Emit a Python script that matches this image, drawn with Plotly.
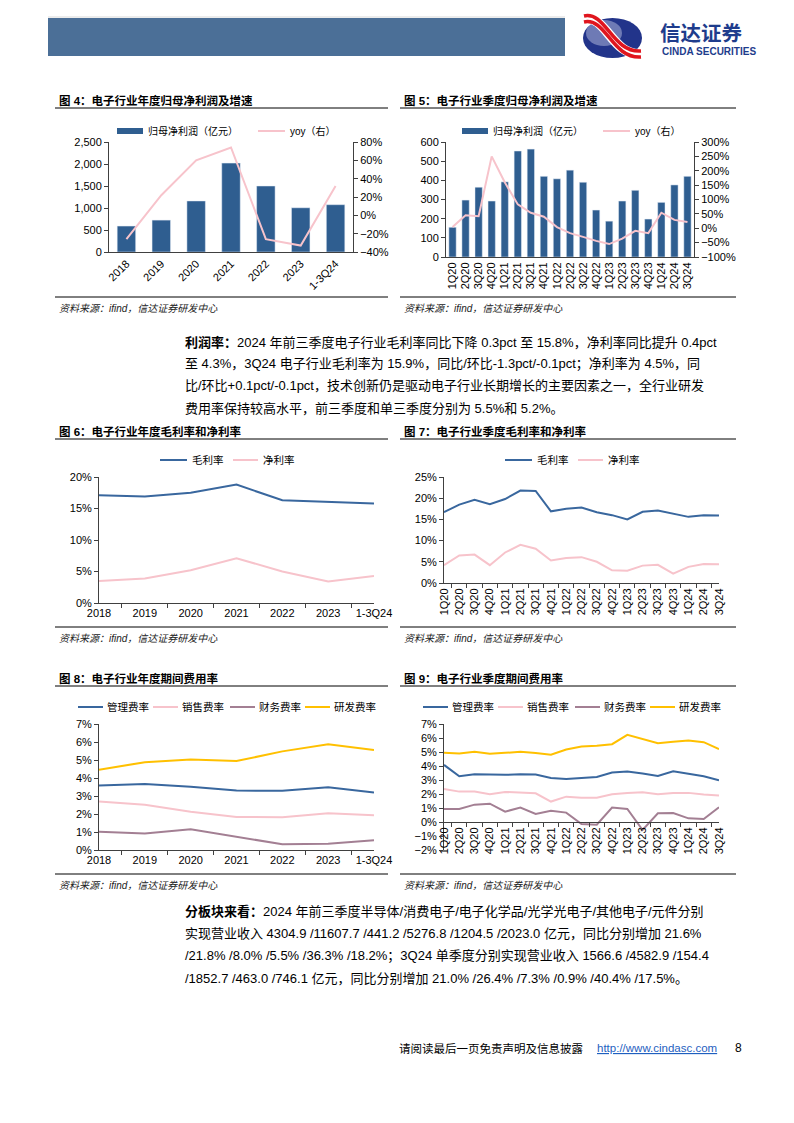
import plotly.graph_objects as go

W, H = 794, 1123
def X(px): return px / W
def Y(py): return 1 - py / H

FONT = "Liberation Sans, Arial, Noto Sans CJK SC, sans-serif"

# ---------------- data ----------------
years = ["2018", "2019", "2020", "2021", "2022", "2023", "1-3Q24"]
quarters = ["1Q20", "2Q20", "3Q20", "4Q20", "1Q21", "2Q21", "3Q21", "4Q21",
            "1Q22", "2Q22", "3Q22", "4Q22", "1Q23", "2Q23", "3Q23", "4Q23",
            "1Q24", "2Q24", "3Q24"]

annual_profit = [590, 725, 1160, 2020, 1500, 1005, 1075]
annual_profit_yoy = [-26, 22, 60, 74, -26, -33, 32]

q_profit = [155, 297, 364, 292, 392, 553, 563, 421, 408, 453, 390, 245,
            187, 292, 348, 198, 285, 376, 421]
q_profit_yoy = [4, 45, 42, 250, 160, 83, 54, 40, 4, -17, -30, -44,
                -55, -36, -9, -17, 54, 29, 22]

annual_gross = [17.1, 16.9, 17.5, 18.8, 16.3, 16.1, 15.8]
annual_net = [3.5, 3.9, 5.2, 7.1, 5.0, 3.4, 4.3]

q_gross = [16.7, 18.5, 19.6, 18.6, 19.8, 21.8, 21.7, 16.9, 17.5, 17.8, 16.7,
           16.0, 15.0, 16.8, 17.1, 16.3, 15.6, 16.0, 15.9]
q_net = [4.2, 6.5, 6.7, 4.2, 7.2, 9.0, 8.1, 5.3, 5.9, 6.1, 5.0, 3.0, 2.9,
         4.1, 4.3, 2.2, 3.8, 4.5, 4.4]

annual_admin = [3.58, 3.66, 3.51, 3.30, 3.29, 3.49, 3.19]
annual_sales = [2.69, 2.51, 2.12, 1.84, 1.82, 2.04, 1.93]
annual_fin = [1.02, 0.91, 1.15, 0.72, 0.32, 0.35, 0.54]
annual_rd = [4.46, 4.88, 5.03, 4.94, 5.48, 5.87, 5.55]

q_admin = [4.08, 3.27, 3.41, 3.39, 3.37, 3.41, 3.39, 3.15, 3.08, 3.15, 3.22,
           3.53, 3.60, 3.46, 3.29, 3.63, 3.46, 3.27, 2.98]
q_sales = [2.36, 2.17, 2.17, 1.98, 2.15, 2.10, 2.05, 1.46, 1.81, 1.74, 1.74,
           1.98, 2.08, 2.12, 1.98, 2.08, 2.08, 1.96, 1.89]
q_fin = [0.93, 0.93, 1.24, 1.31, 0.74, 1.03, 0.57, 0.81, 0.67, -0.14, -0.19,
         1.03, 0.93, -0.57, 0.62, 0.64, 0.26, 0.21, 1.05]
q_rd = [4.94, 4.89, 5.01, 4.87, 4.94, 5.01, 4.92, 4.80, 5.18, 5.39, 5.44,
        5.56, 6.23, 5.94, 5.63, 5.73, 5.82, 5.70, 5.20]

# ---------------- styles ----------------
BAR = "#2F5E90"
PINK = "#F7C3CB"
BLUE = "#39679E"
MAUVE = "#A37F93"
GOLD = "#FFC000"
AXC = "#404040"

fig = go.Figure()

# Chart 4
fig.add_trace(go.Bar(x=years, y=annual_profit, marker_color=BAR, width=0.53,
                     xaxis="x", yaxis="y"))
fig.add_trace(go.Scatter(x=years, y=annual_profit_yoy, mode="lines",
                         line=dict(color=PINK, width=2), xaxis="x", yaxis="y2"))
# Chart 5
fig.add_trace(go.Bar(x=quarters, y=q_profit, marker_color=BAR, width=0.56,
                     xaxis="x2", yaxis="y3"))
fig.add_trace(go.Scatter(x=quarters, y=q_profit_yoy, mode="lines",
                         line=dict(color=PINK, width=2), xaxis="x2", yaxis="y4"))
# Chart 6
fig.add_trace(go.Scatter(x=years, y=annual_gross, mode="lines",
                         line=dict(color=BLUE, width=2), xaxis="x3", yaxis="y5"))
fig.add_trace(go.Scatter(x=years, y=annual_net, mode="lines",
                         line=dict(color=PINK, width=2), xaxis="x3", yaxis="y5"))
# Chart 7
fig.add_trace(go.Scatter(x=quarters, y=q_gross, mode="lines",
                         line=dict(color=BLUE, width=2), xaxis="x4", yaxis="y6"))
fig.add_trace(go.Scatter(x=quarters, y=q_net, mode="lines",
                         line=dict(color=PINK, width=2), xaxis="x4", yaxis="y6"))
# Chart 8
for ys, c in [(annual_admin, BLUE), (annual_sales, PINK), (annual_fin, MAUVE), (annual_rd, GOLD)]:
    fig.add_trace(go.Scatter(x=years, y=ys, mode="lines", line=dict(color=c, width=2),
                             xaxis="x5", yaxis="y7"))
# Chart 9
for ys, c in [(q_admin, BLUE), (q_sales, PINK), (q_fin, MAUVE), (q_rd, GOLD)]:
    fig.add_trace(go.Scatter(x=quarters, y=ys, mode="lines", line=dict(color=c, width=2),
                             xaxis="x6", yaxis="y8"))

tickfont = dict(family=FONT, size=11, color="#000")

def xax(x0, x1, anchor, angle, ticks="", position=None):
    d = dict(domain=[X(x0), X(x1)], anchor=anchor, type="category", showline=True,
             linecolor=AXC, linewidth=1, showgrid=False, zeroline=False,
             tickfont=tickfont, tickangle=angle, ticks=ticks, ticklen=4,
             tickcolor=AXC, fixedrange=True, tickmode="linear", tick0=0, dtick=1,
             automargin=False)
    if ticks:
        d["tickson"] = "boundaries"
    if position is not None:
        d["anchor"] = "free"
        d["position"] = position
    return d

def yax(y0, y1, anchor, rng, dtick, suffix="", fmt=None, side="left", overlay=None):
    d = dict(anchor=anchor, range=rng, dtick=dtick, tick0=rng[0], showline=True,
             linecolor=AXC, linewidth=1, showgrid=False, zeroline=False,
             ticks="outside", ticklen=4, tickcolor=AXC, tickfont=tickfont,
             ticksuffix=suffix, side=side, fixedrange=True, automargin=False)
    if overlay:
        d["overlaying"] = overlay
    else:
        d["domain"] = [Y(y1), Y(y0)]
    if fmt:
        d["tickformat"] = fmt
    return d

layout = dict(
    width=W, height=H, autosize=False, showlegend=False,
    margin=dict(l=0, r=0, t=0, b=0, pad=0, autoexpand=False),
    paper_bgcolor="white", plot_bgcolor="white",
    font=dict(family=FONT, color="#000"),
    xaxis=xax(109, 353, "y", -45),
    yaxis=yax(142, 252, "x", [0, 2500], 500, fmt=","),
    yaxis2=yax(142, 252, "x", [-40, 80], 20, suffix="%", side="right", overlay="y"),
    xaxis2=xax(446, 694, "y3", -90),
    yaxis3=yax(142, 257, "x2", [0, 600], 100),
    yaxis4=yax(142, 257, "x2", [-100, 300], 50, suffix="%", side="right", overlay="y3"),
    xaxis3=xax(99, 374, "y5", 0, ticks="outside"),
    yaxis5=yax(477, 603, "x3", [0, 20], 5, suffix="%"),
    xaxis4=xax(444, 719, "y6", -90, ticks="outside"),
    yaxis6=yax(477, 583, "x4", [0, 25], 5, suffix="%"),
    xaxis5=xax(99, 374, "y7", 0, ticks="outside"),
    yaxis7=yax(724, 850, "x5", [0, 7], 1, suffix="%"),
    xaxis6=xax(444, 719, "y8", -90, ticks="outside", position=Y(822)),
    yaxis8=yax(724, 850, "x6", [-2, 7], 1, suffix="%"),
)
fig.update_layout(**layout)

shapes = []
ann = []

def hline(x0, x1, y, color="#000", w=1):
    shapes.append(dict(type="line", xref="paper", yref="paper", x0=X(x0), x1=X(x1),
                       y0=Y(y), y1=Y(y), line=dict(color=color, width=w)))

def text(x, y, s, size=11, color="#000", bold=False, italic=False, anchor="left", family=FONT):
    f = dict(family=family, size=size, color=color)
    if italic:
        f["style"] = "italic"
    ann.append(dict(xref="paper", yref="paper", x=X(x), y=Y(y), text=("<b>%s</b>" % s) if bold else s,
                    showarrow=False, xanchor=anchor, yanchor="middle", font=f))

# Header band
shapes.append(dict(type="rect", xref="paper", yref="paper", x0=X(48), x1=X(565), y0=Y(56), y1=Y(18),
                   fillcolor="#4B6F97", line=dict(width=0)))
hline(48, 565, 17, "#d9d9d9", 1)
# Logo
shapes.append(dict(type="circle", xref="paper", yref="paper", x0=X(583), x1=X(642), y0=Y(58), y1=Y(18),
                   fillcolor="#22348A", line=dict(width=0)))
shapes.append(dict(type="circle", xref="paper", yref="paper", x0=X(586), x1=X(622), y0=Y(46), y1=Y(20),
                   fillcolor="rgba(225,228,245,0.40)", line=dict(width=0)))

def ppath(pts):
    s = "M %f,%f" % (X(pts[0][0]), Y(pts[0][1]))
    s += " C " + " ".join("%f,%f" % (X(a), Y(b)) for a, b in pts[1:])
    return s

for off, col, wdt in [(0, "white", 10), (-3, "#E0161E", 3.5), (3, "#E0161E", 3.5)]:
    shapes.append(dict(type="path", xref="paper", yref="paper",
                       path=ppath([(584, 19 + off), (606, 14 + off), (612, 56 + off), (641, 54 + off)]),
                       line=dict(color=col, width=wdt)))
text(658, 31.5, "信达证券", size=20.5, color="#1E3C8C", bold=True, family="Noto Sans CJK SC")
text(660, 51.5, "CINDA SECURITIES", size=10, color="#1E3C8C", bold=True)

# Titles, rules, sources
titles = [(57, 101, "图 4：电子行业年度归母净利润及增速"), (402, 101, "图 5：电子行业季度归母净利润及增速"),
          (57, 431, "图 6：电子行业年度毛利率和净利率"), (402, 431, "图 7：电子行业季度毛利率和净利率"),
          (57, 678, "图 8：电子行业年度期间费用率"), (402, 678, "图 9：电子行业季度期间费用率")]
for x, y, s in titles:
    text(x, y, s, size=11.5, bold=True)
for y in (108, 439, 686):
    hline(55, 388, y)
    hline(400, 736, y)
for y in (297, 627, 874):
    hline(55, 388, y)
    hline(400, 736, y)
    text(57, y + 11, "资料来源：ifind，信达证券研发中心", size=10, italic=True, color="#222")
    text(402, y + 11, "资料来源：ifind，信达证券研发中心", size=10, italic=True, color="#222")

# Manual legends
def leg_rect(x0, x1, y, color):
    shapes.append(dict(type="rect", xref="paper", yref="paper", x0=X(x0), x1=X(x1), y0=Y(y + 3), y1=Y(y - 3),
                       fillcolor=color, line=dict(width=0)))

def leg_line(x0, x1, y, color):
    shapes.append(dict(type="line", xref="paper", yref="paper", x0=X(x0), x1=X(x1), y0=Y(y), y1=Y(y),
                       line=dict(color=color, width=2)))

for dx in (0, 345):
    leg_rect(117 + dx, 143 + dx, 131, BAR)
    text(146 + dx, 131, "归母净利润（亿元）", size=10)
    leg_line(258 + dx, 285 + dx, 131, PINK)
    text(288 + dx, 131, "yoy（右）", size=10)
    leg_line(160 + dx, 187 + dx, 460, BLUE)
    text(190 + dx, 460, "毛利率", size=10.5)
    leg_line(233 + dx, 258 + dx, 460, PINK)
    text(261 + dx, 460, "净利率", size=10.5)
    for x0, c, s in [(78, BLUE, "管理费率"), (153, PINK, "销售费率"), (230, MAUVE, "财务费率"), (305, GOLD, "研发费率")]:
        leg_line(x0 + dx, x0 + 25 + dx, 707, c)
        text(x0 + 27 + dx, 707, s, size=10.5)

# Paragraphs
p1 = ["<b>利润率：</b>2024 年前三季度电子行业毛利率同比下降 0.3pct 至 15.8%，净利率同比提升 0.4pct",
      "至 4.3%，3Q24 电子行业毛利率为 15.9%，同比/环比-1.3pct/-0.1pct；净利率为 4.5%，同",
      "比/环比+0.1pct/-0.1pct，技术创新仍是驱动电子行业长期增长的主要因素之一，全行业研发",
      "费用率保持较高水平，前三季度和单三季度分别为 5.5%和 5.2%。"]
for i, s in enumerate(p1):
    text(183, 342 + 22 * i, s, size=13)
p2 = ["<b>分板块来看：</b>2024 年前三季度半导体/消费电子/电子化学品/光学光电子/其他电子/元件分别",
      "实现营业收入 4304.9 /11607.7 /441.2 /5276.8 /1204.5 /2023.0 亿元，同比分别增加 21.6%",
      "/21.8% /8.0% /5.5% /36.3% /18.2%；3Q24 单季度分别实现营业收入 1566.6 /4582.9 /154.4",
      "/1852.7 /463.0 /746.1 亿元，同比分别增加 21.0% /26.4% /7.3% /0.9% /40.4% /17.5%。"]
for i, s in enumerate(p2):
    text(183, 911 + 22.5 * i, s, size=13)

# Footer
text(397, 1048, "请阅读最后一页免责声明及信息披露", size=11.5)
text(595, 1048, "<u>http://www.cindasc.com</u>", size=11.5, color="#1F5FBF")
text(733, 1048, "8", size=12)

fig.update_layout(shapes=shapes, annotations=ann)
fig.write_html("out.html", config={"displayModeBar": False},
               post_script="document.body.style.margin='0';document.body.style.overflow='hidden';")
